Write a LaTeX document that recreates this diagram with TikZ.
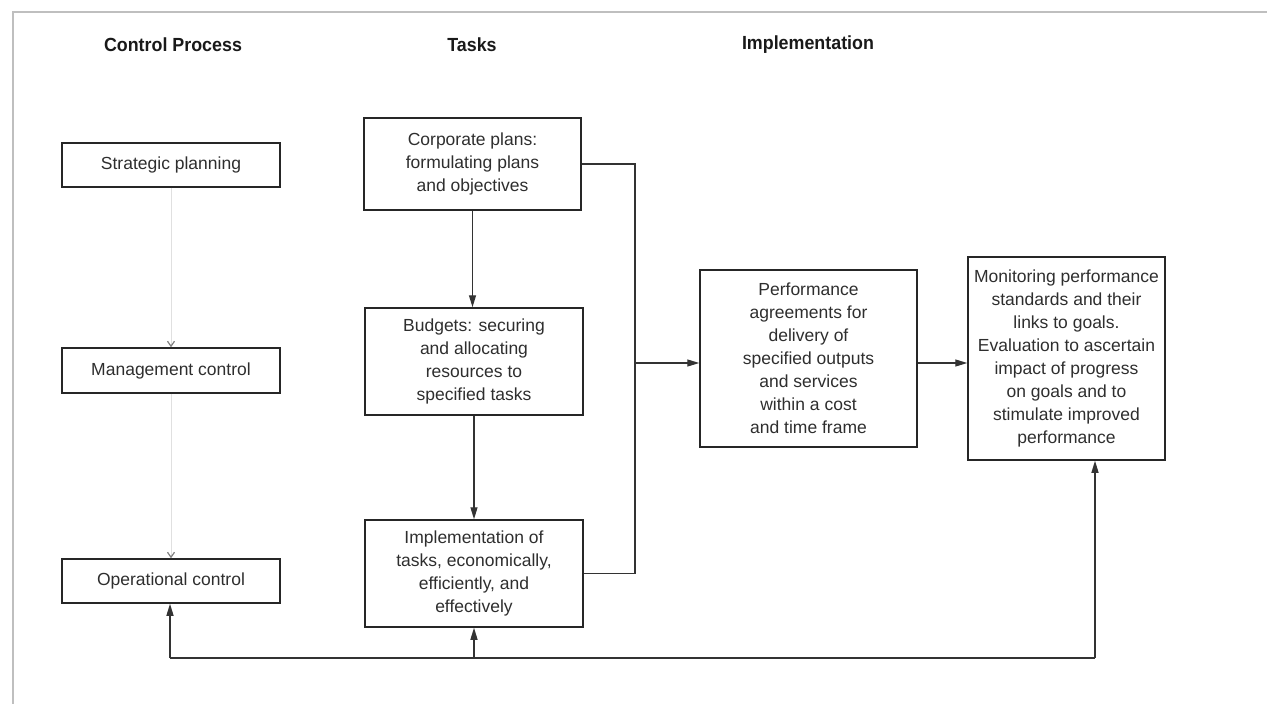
\documentclass[tikz,border=0pt]{standalone}
\usepackage{fontspec}
\setmainfont{Liberation Sans}
\usetikzlibrary{arrows.meta}
\begin{document}
\begin{tikzpicture}[x=1pt,y=-1pt,
  header/.style={font=\fontsize{19}{23}\bfseries\addfontfeatures{FakeStretch=0.94}\selectfont, text=black!90, inner sep=0pt},
  box/.style={draw=black!85, line width=1.5pt, align=center, inner sep=0pt,
    font=\fontsize{17.5}{23}\selectfont, text=black!82},
  arr/.style={draw=black!80, line width=1.3pt, -{Triangle[length=12pt,width=7pt]}},
  link/.style={draw=black!80, line width=1.3pt},
  faint/.style={draw=black!12, line width=1pt, -{Straight Barb[length=5pt,width=7pt,line width=1.2pt,color=black!50]}},
  frame/.style={draw=black!25, line width=1.6pt}]
\useasboundingbox (0,0) rectangle (1267,704);

% outer frame
\draw[frame] (13,704) -- (13,12) -- (1267,12);

% column headings
\node[header] (hctl) at (173,45) {Control Process};
\node[header] (htsk) at (472,45) {Tasks};
\node[header] (himp) at (808,45) {Implementation};

% control process column
\node[box, minimum width=218pt, minimum height=44pt] (strat) at (171,165) {Strategic planning};
\node[box, minimum width=218pt, minimum height=45pt] (mgmt) at (171,370.5) {Management control};
\node[box, minimum width=218pt, minimum height=44pt] (oper) at (171,581) {Operational control};

% tasks column
\node[box, minimum width=217pt, minimum height=92pt] (corp) at (472.5,164)
  {Corporate plans:\\formulating plans\\and objectives};
\node[box, minimum width=218pt, minimum height=107pt] (budg) at (474,361.5)
  {Budgets: securing\\and allocating\\resources to\\specified tasks};
\node[box, minimum width=218pt, minimum height=107pt] (impl) at (474,573.5)
  {Implementation of\\tasks, economically,\\efficiently, and\\effectively};

% implementation column
\node[box, minimum width=217pt, minimum height=177pt] (perf) at (808.5,358.5)
  {Performance\\agreements for\\delivery of\\specified outputs\\and services\\within a cost\\and time frame};
\node[box, minimum width=197pt, minimum height=203pt] (mon) at (1066.5,358.5)
  {Monitoring performance\\standards and their\\links to goals.\\Evaluation to ascertain\\impact of progress\\on goals and to\\stimulate improved\\performance};

% control process links
\draw[faint] (strat.south) -- (mgmt.north);
\draw[faint] (mgmt.south) -- (oper.north);

% task flow
\draw[arr] (corp.south) -- (corp.south |- budg.north);
\draw[arr] (budg.south) -- (impl.north);

% bracket joining plans and implementation
\coordinate (bx) at (635,363);
\draw[link] (corp.east) -- (corp.east -| bx) -- (impl.east -| bx) -- (impl.east);
\draw[arr] (bx) -- (perf.west |- bx);
\draw[arr] (perf.east |- bx) -- (mon.west |- bx);

% feedback loop
\coordinate (fbL) at (170,658);
\coordinate (fbR) at (1095,658);
\draw[link] (fbL) -- (fbR);
\draw[arr] (fbL) -- (fbL |- oper.south);
\draw[arr] (impl.south |- fbL) -- (impl.south);
\draw[arr] (fbR) -- (fbR |- mon.south);
\end{tikzpicture}
\end{document}
